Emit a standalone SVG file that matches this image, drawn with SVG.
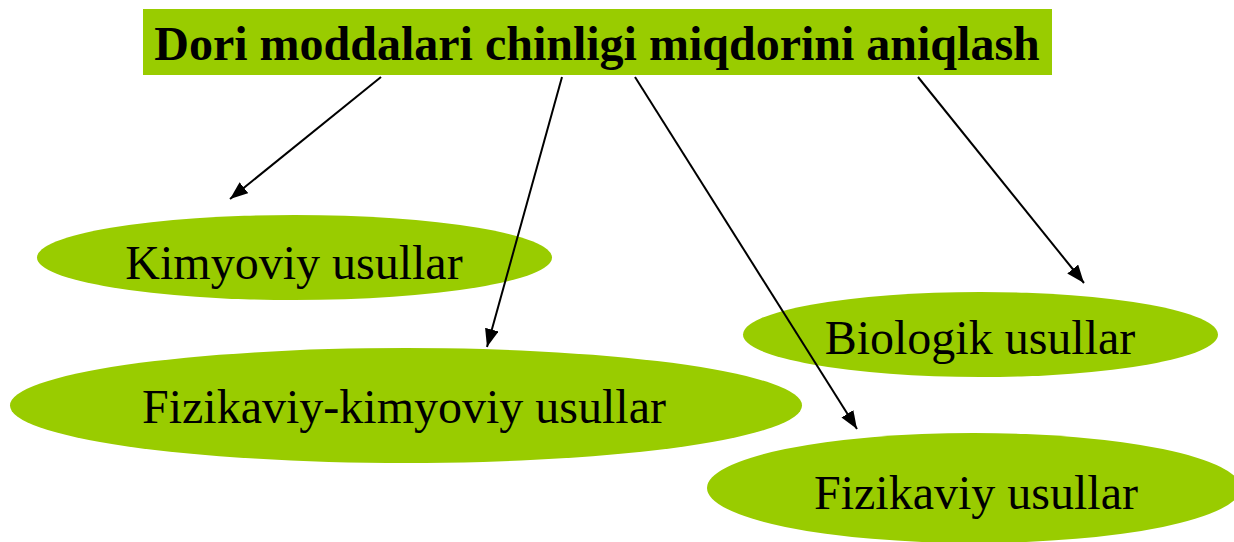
<svg xmlns="http://www.w3.org/2000/svg" width="1234" height="542" viewBox="0 0 1234 542">
<style>
.node{fill:#99cc00;}
.lbl{font-family:"Liberation Serif","Times New Roman",serif;font-size:48px;fill:#000;text-anchor:middle;}
.title{font-weight:bold;}
.conn{stroke:#000;stroke-width:2;fill:none;marker-end:url(#arr);}
</style>
<defs>
<marker id="arr" markerUnits="userSpaceOnUse" markerWidth="19" markerHeight="15" refX="18" refY="7" orient="auto">
<path d="M0,0 L18,7 L0,14 Z" fill="#000"/>
</marker>
</defs>
<rect width="1234" height="542" fill="#fff"/>
<g id="title">
<rect class="node" x="143" y="9" width="909" height="66"/>
<text class="lbl title" x="597" y="60">Dori moddalari chinligi miqdorini aniqlash</text>
</g>
<g id="kimyoviy">
<ellipse class="node" cx="294.5" cy="257.5" rx="257.5" ry="42.5"/>
<text class="lbl" x="294" y="279">Kimyoviy usullar</text>
</g>
<g id="fizikaviy-kimyoviy">
<ellipse class="node" cx="406" cy="405.5" rx="396" ry="57.5"/>
<text class="lbl" x="404" y="423">Fizikaviy-kimyoviy usullar</text>
</g>
<g id="biologik">
<ellipse class="node" cx="980.5" cy="334.5" rx="237.5" ry="42.5"/>
<text class="lbl" x="980" y="354">Biologik usullar</text>
</g>
<g id="fizikaviy">
<ellipse class="node" cx="974" cy="488" rx="267" ry="55"/>
<text class="lbl" x="976" y="509">Fizikaviy usullar</text>
</g>
<g id="connectors">
<line class="conn" x1="381" y1="77" x2="230" y2="199"/>
<line class="conn" x1="562" y1="77" x2="487" y2="347"/>
<line class="conn" x1="635" y1="77" x2="857" y2="429"/>
<line class="conn" x1="918" y1="77" x2="1084" y2="283"/>
</g>
</svg>
